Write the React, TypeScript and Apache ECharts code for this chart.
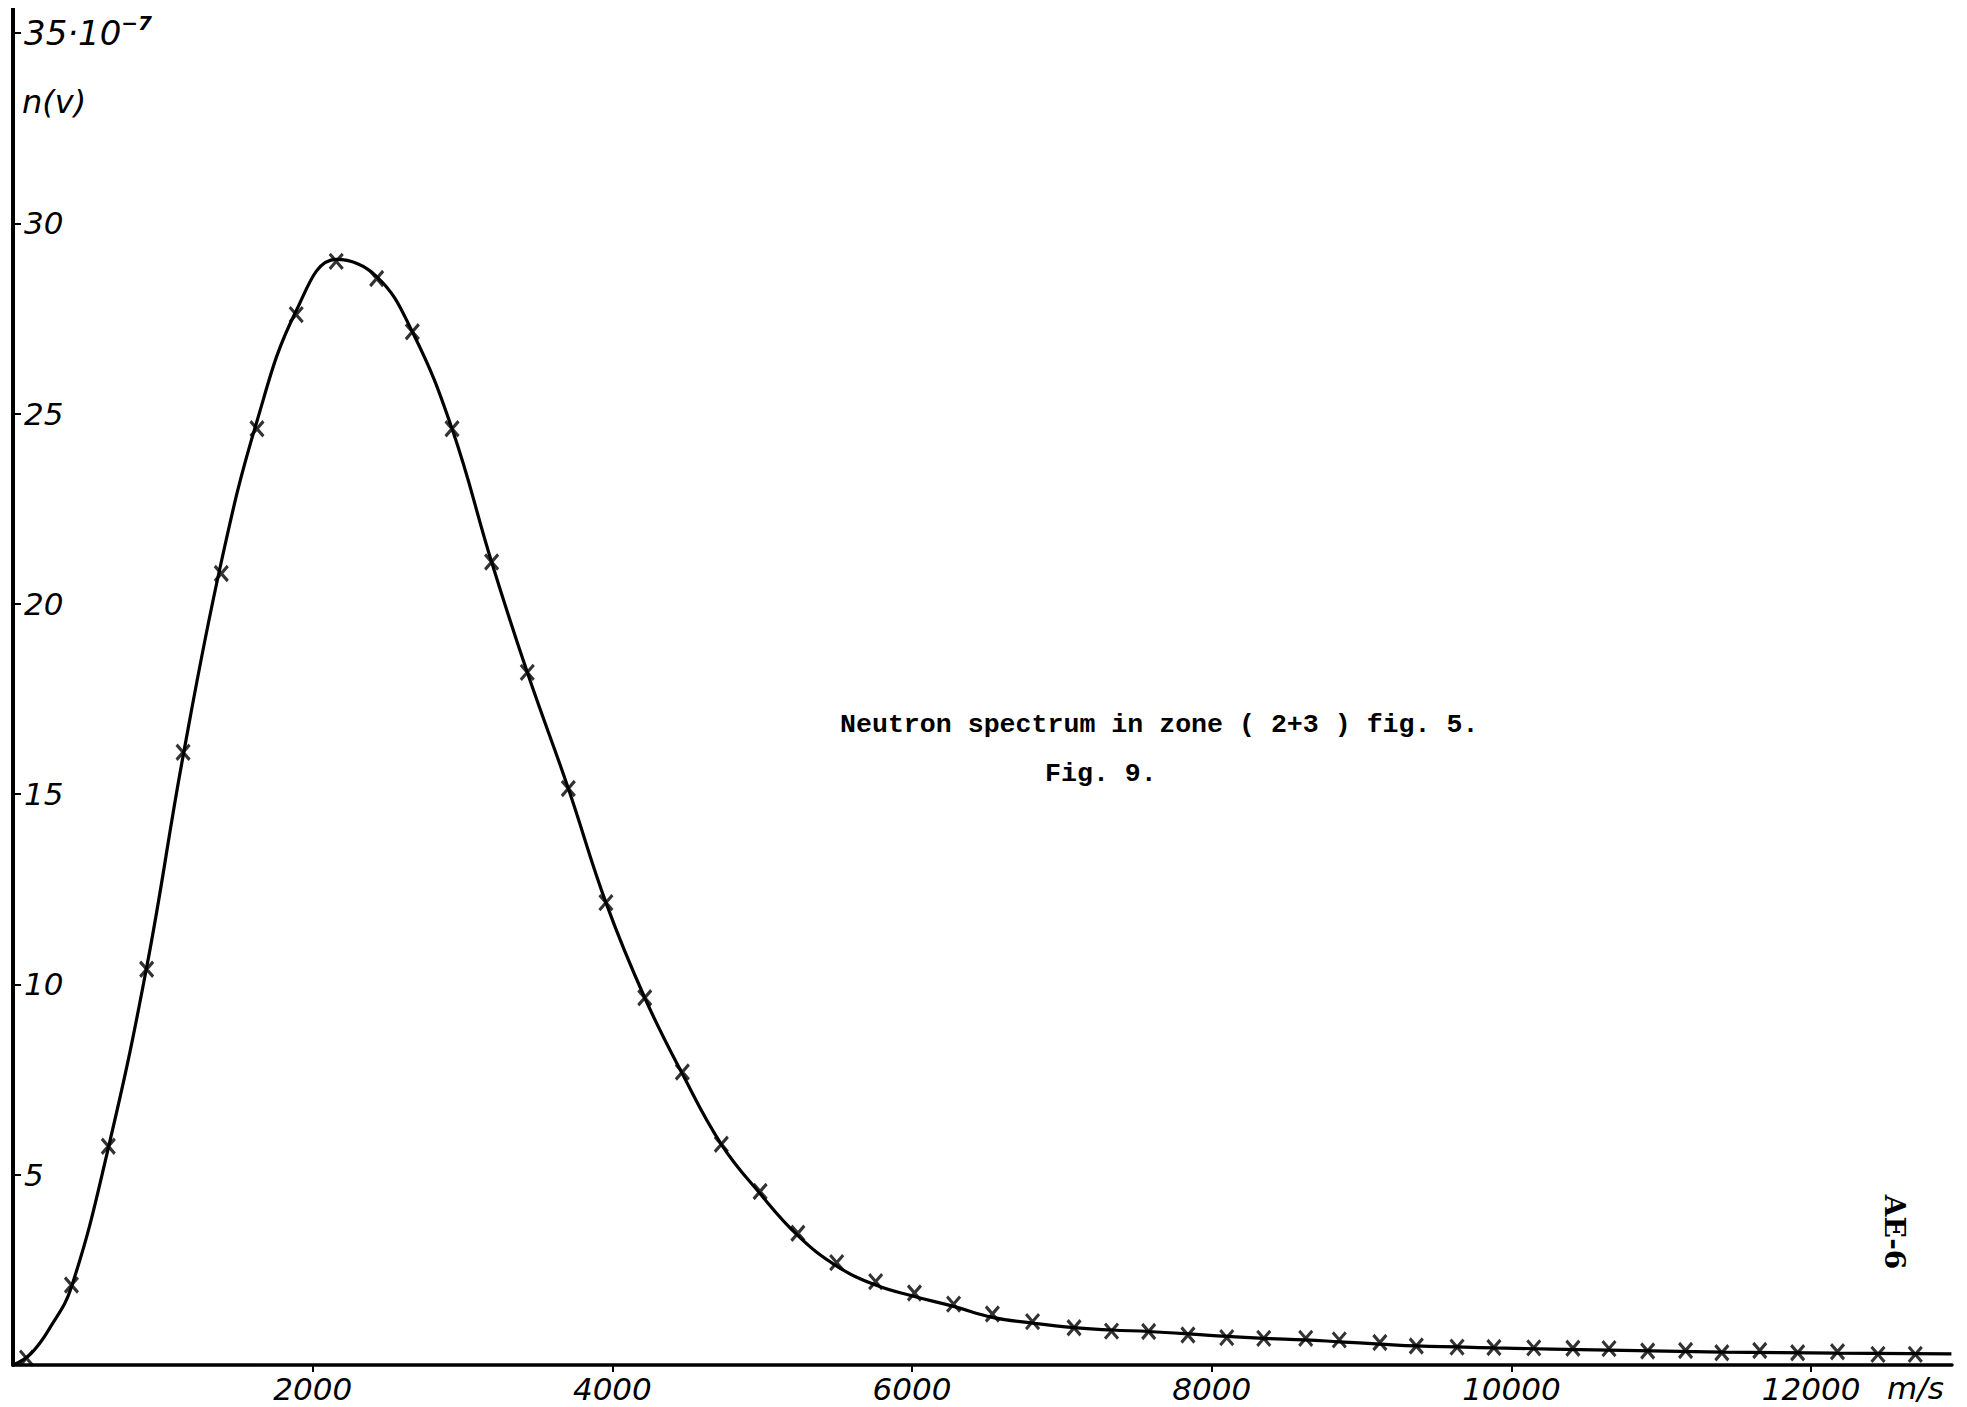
import React, { useEffect, useRef } from "react";
import * as echarts from "echarts";

// Measured crosses: velocity (m/s) and n(v) (units of 10^-7)
const vPoints = [90, 390, 636, 892, 1135, 1390, 1628, 1890, 2157, 2427, 2665, 2930, 3194, 3432, 3706, 3957, 4216, 4467, 4727, 4986, 5238, 5497, 5757, 6016, 6277, 6536, 6804, 7081, 7331, 7579, 7841, 8100, 8347, 8627, 8851, 9122, 9365, 9637, 9883, 10149, 10410, 10651, 10909, 11162, 11404, 11657, 11910, 12176, 12446, 12695];
const nPoints = [0.18, 2.1, 5.75, 10.4, 16.1, 20.8, 24.6, 27.6, 29.0, 28.55, 27.15, 24.6, 21.1, 18.2, 15.15, 12.15, 9.65, 7.7, 5.8, 4.56, 3.46, 2.69, 2.19, 1.89, 1.6, 1.34, 1.14, 0.98, 0.89, 0.88, 0.79, 0.72, 0.7, 0.7, 0.66, 0.59, 0.5, 0.47, 0.46, 0.45, 0.44, 0.43, 0.37, 0.38, 0.32, 0.38, 0.32, 0.35, 0.28, 0.28];

// Hand-drawn fitted curve
const vCurve = [0, 120, 250, 390, 636, 892, 1135, 1390, 1628, 1890, 2157, 2427, 2665, 2930, 3194, 3432, 3706, 3957, 4216, 4467, 4727, 4986, 5238, 5497, 5757, 6016, 6277, 6536, 6804, 7081, 7331, 7579, 7841, 8100, 8347, 8627, 8851, 9122, 9365, 9883, 10651, 11404, 12176, 12936];
const nCurve = [0, 0.3, 1.0, 2.05, 5.7, 10.45, 16.0, 21.1, 24.8, 27.7, 29.05, 28.6, 27.15, 24.6, 21.1, 18.2, 15.15, 12.15, 9.65, 7.65, 5.8, 4.5, 3.4, 2.6, 2.1, 1.8, 1.54, 1.25, 1.1, 0.98, 0.92, 0.88, 0.82, 0.75, 0.7, 0.66, 0.61, 0.55, 0.5, 0.45, 0.39, 0.34, 0.31, 0.29];

const xTickValues = [2000, 4000, 6000, 8000, 10000, 12000];
const yTickValues = [5, 10, 15, 20, 25, 30, 35];
const xMax = 12940;
const yMax = 35;

const titleLine1 = "Neutron spectrum in zone ( 2+3 ) fig. 5.";
const titleLine2 = "Fig. 9.";
const yName = "n(v)";
const xUnit = "m/s";
const sideMark = "AE-6";

const HAND = "'DejaVu Sans', sans-serif";
const TYPE = "'Liberation Mono', monospace";
const SIDE = "'DejaVu Serif', serif";

export default function App() {
  const ref = useRef<HTMLDivElement>(null);

  useEffect(() => {
    if (!ref.current) return;
    const chart = echarts.init(ref.current, null, { renderer: "svg" });
    const pts = vPoints.map((v, i) => [v, nPoints[i]]);
    const curve = vCurve.map((v, i) => [v, nCurve[i]]);

    chart.setOption({
      animation: false,
      backgroundColor: "#ffffff",
      grid: { left: 13, right: 15, top: 33, bottom: 42, containLabel: false },
      xAxis: {
        type: "value",
        min: 0,
        max: xMax,
        axisLine: { show: true, lineStyle: { color: "#000", width: 3.5 } },
        axisTick: {
          show: true,
          customValues: xTickValues,
          length: 7,
          lineStyle: { color: "#000", width: 2 },
        },
        axisLabel: {
          customValues: xTickValues,
          margin: 8,
          color: "#000",
          fontFamily: HAND,
          fontStyle: "italic",
          fontSize: 31,
          formatter: (v: number) => String(v),
        },
        splitLine: { show: false },
      },
      yAxis: {
        type: "value",
        min: 0,
        max: yMax,
        interval: 5,
        axisLine: { show: true, lineStyle: { color: "#000", width: 4 } },
        axisTick: {
          show: true,
          inside: true,
          customValues: yTickValues,
          length: 8,
          lineStyle: { color: "#000", width: 2 },
        },
        axisLabel: {
          inside: true,
          customValues: yTickValues,
          margin: 11,
          color: "#000",
          fontFamily: HAND,
          fontStyle: "italic",
          fontSize: 31,
          formatter: (v: number) => (v === 35 ? "{a|35·10}{s|−7}" : String(v)),
          rich: {
            a: { fontFamily: HAND, fontStyle: "italic", fontSize: 34, color: "#000", lineHeight: 40 },
            s: { fontFamily: HAND, fontStyle: "italic", fontSize: 20, color: "#000", verticalAlign: "top", fontWeight: "bold" },
          },
        },
        splitLine: { show: false },
      },
      series: [
        {
          type: "line",
          data: curve,
          smooth: 0.42,
          showSymbol: false,
          lineStyle: { color: "#000", width: 3.2 },
          z: 2,
        },
        {
          type: "scatter",
          data: pts,
          symbol: "path://M0,0L10,12M10,0L0,12",
          symbolSize: [13, 15],
          itemStyle: { color: "none", borderColor: "#000", borderWidth: 3.2 },
          z: 3,
        },
      ],
      graphic: [
        {
          type: "line",
          shape: { x1: 13, y1: 8, x2: 13, y2: 36 },
          style: { stroke: "#000", lineWidth: 4 },
        },
        {
          type: "text",
          x: 22,
          y: 102,
          style: { text: yName, fill: "#000", font: `italic 32px ${HAND}`, align: "left", verticalAlign: "middle" },
        },
        {
          type: "text",
          x: 840,
          y: 725,
          style: { text: titleLine1, fill: "#000", font: `bold 26.6px ${TYPE}`, align: "left", verticalAlign: "middle" },
        },
        {
          type: "text",
          x: 1045,
          y: 774,
          style: { text: titleLine2, fill: "#000", font: `bold 26.6px ${TYPE}`, align: "left", verticalAlign: "middle" },
        },
        {
          type: "text",
          x: 1887,
          y: 1388,
          style: { text: xUnit, fill: "#000", font: `italic 31px ${HAND}`, align: "left", verticalAlign: "middle" },
        },
        {
          type: "text",
          x: 1894,
          y: 1232,
          rotation: -Math.PI / 2,
          style: { text: sideMark, fill: "#000", font: `bold 28px ${SIDE}`, align: "center", verticalAlign: "middle" },
        },
      ],
    });

    return () => chart.dispose();
  }, []);

  return (
    <div
      ref={ref}
      style={{ position: "absolute", left: 0, top: 0, width: "1967px", height: "1407px", background: "#fff" }}
    />
  );
}
